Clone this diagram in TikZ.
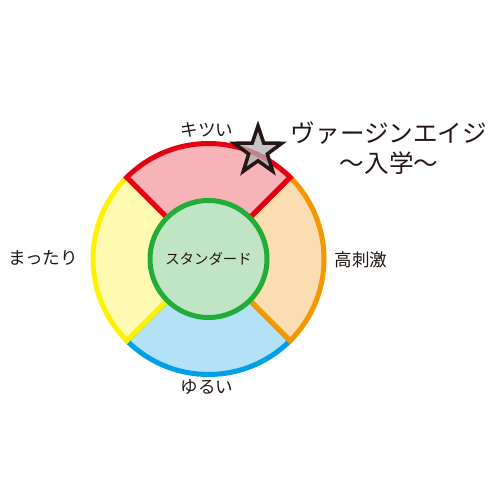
\documentclass[tikz,border=0pt]{standalone}
\usepackage{fontspec}
\setmainfont{Noto Sans CJK JP}
\usetikzlibrary{positioning, shapes.geometric}

\definecolor{inkdark}{HTML}{231815}
\definecolor{ringred}{HTML}{E60012}
\definecolor{ringorange}{HTML}{F39800}
\definecolor{ringblue}{HTML}{00A0E9}
\definecolor{ringyellow}{HTML}{FFF100}
\definecolor{ringgreen}{HTML}{22AC38}
\definecolor{fillred}{HTML}{F6B3B8}
\definecolor{fillorange}{HTML}{FADDB0}
\definecolor{fillblue}{HTML}{B3E1F6}
\definecolor{fillyellow}{HTML}{FFFAB2}
\definecolor{fillgreen}{HTML}{BFE5C4}

\begin{document}
\begin{tikzpicture}[
        x=0.2mm, y=0.2mm,
        sector/.style={line width=1mm, line join=miter},
        core/.style={circle, draw=ringgreen, fill=fillgreen, line width=1mm, minimum size=117*0.2mm, inner sep=0pt, font=\fontsize{8.2}{10}\selectfont, text=inkdark},
        tag/.style={font=\fontsize{10}{12}\selectfont, text=inkdark, inner sep=1pt},
        title/.style={font=\fontsize{14}{17}\selectfont, text=inkdark, align=center, inner sep=0pt},
        mark5/.style={star, star points=5, star point ratio=2.55, draw=inkdark, fill=gray!60, fill opacity=0.75, line width=0.7mm, minimum size=10mm, inner sep=0pt}
    ]
        \useasboundingbox (0,0) rectangle (500,500);
        \coordinate (c) at (208.5,241);

        % four sectors of the ring
        \begin{scope}[shift={(c)}]
            \draw[sector, draw=ringblue, fill=fillblue] (-45:115.5) arc[start angle=-45, end angle=-135, radius=115.5] -- (-135:58) arc[start angle=-135, end angle=-45, radius=58] -- cycle;
            \draw[sector, draw=ringyellow, fill=fillyellow] (135:115.5) arc[start angle=135, end angle=225, radius=115.5] -- (225:58) arc[start angle=225, end angle=135, radius=58] -- cycle;
            \draw[sector, draw=ringorange, fill=fillorange] (45:115.5) arc[start angle=45, end angle=-45, radius=115.5] -- (-45:58) arc[start angle=-45, end angle=45, radius=58] -- cycle;
            \draw[sector, draw=ringred, fill=fillred] (45:115.5) arc[start angle=45, end angle=135, radius=115.5] -- (135:58) arc[start angle=135, end angle=45, radius=58] -- cycle;
        \end{scope}

        % centre
        \node[core] (std) at (c) {スタンダード};

        % labels round the ring
        \node[tag] (hard) at (207,370) {キツい};
        \node[tag] (strong) at (361,240) {高刺激};
        \node[tag] (soft) at (207,113) {ゆるい};
        \node[tag] (mild) at (43,242) {まったり};

        % star and title
        \node[mark5] (mark) at (258,349) {};
        \node[title] (virgin) at (389,352) {ヴァージンエイジ\\〜入学〜};

    \end{tikzpicture}
\end{document}
